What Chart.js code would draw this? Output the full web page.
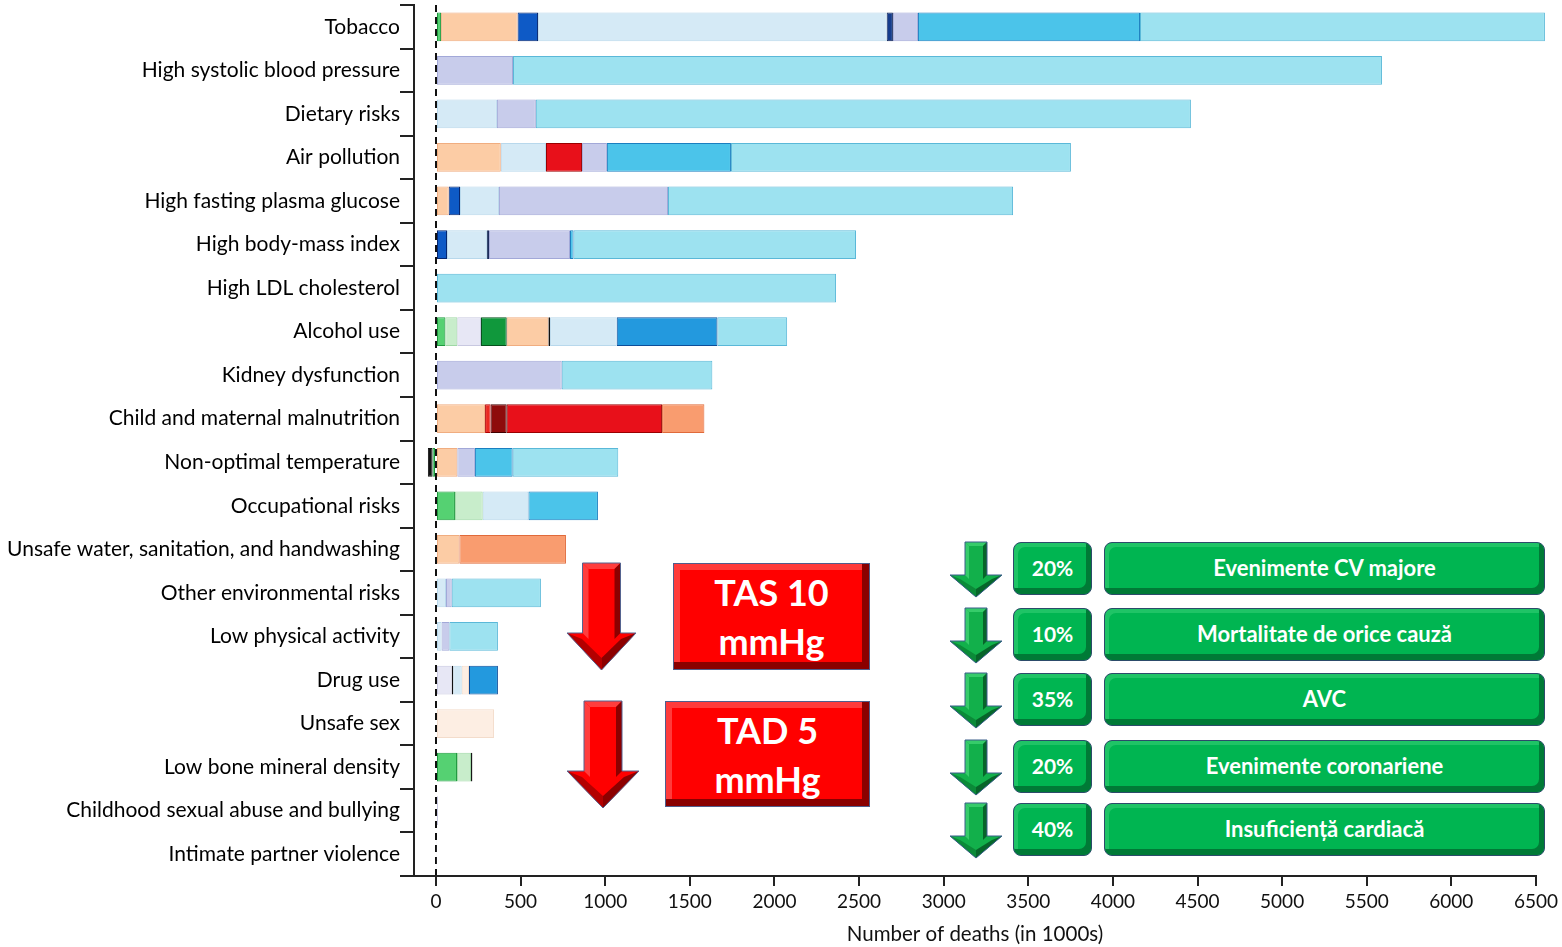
<!DOCTYPE html>
<html lang="ro">
<head>
<meta charset="utf-8">
<title>Decese atribuibile factorilor de risc</title>
<script src="https://cdn.jsdelivr.net/npm/chart.js@4.4.1/dist/chart.umd.min.js"></script>
<style>
  body { margin: 0; background: #fff; }
  #wrap { position: relative; width: 1562px; height: 947px; overflow: hidden; }
  #grafico { position: absolute; left: 0; top: 0; }
  .caja { position: absolute; box-sizing: border-box; color: #fff; font-family: Lato, sans-serif; font-weight: 700; text-align: center; }
  .roja { background: #ff0000; border: 1px solid #4f5d8c; box-shadow: inset -7px -7px 0 #8a0000, inset 6px 6px 0 #ff3b3b; font-size: 36px; line-height: 49px; padding-top: 4px; }
  .verde { background: #00b551; border: 1px solid #2c4b6a; border-radius: 8px; box-shadow: inset -5px -6px 0 #007a36, inset 4px 4px 0 #1fc466; font-size: 22px; display: flex; align-items: center; justify-content: center; padding-bottom: 3px; }
  .verde.pct { font-size: 21px; }
  svg { position: absolute; overflow: visible; }
</style>
</head>
<body>
<div id="wrap">
  <canvas id="grafico" width="1562" height="947"></canvas>
  <div id="notas"></div>
</div>
<script>
/* Datos */
var factores = [
  "Tobacco", "High systolic blood pressure", "Dietary risks", "Air pollution",
  "High fasting plasma glucose", "High body-mass index", "High LDL cholesterol",
  "Alcohol use", "Kidney dysfunction", "Child and maternal malnutrition",
  "Non-optimal temperature", "Occupational risks", "Unsafe water, sanitation, and handwashing",
  "Other environmental risks", "Low physical activity", "Drug use", "Unsafe sex",
  "Low bone mineral density", "Childhood sexual abuse and bullying", "Intimate partner violence"
];
var xTicks = [0, 500, 1000, 1500, 2000, 2500, 3000, 3500, 4000, 4500, 5000, 5500, 6000, 6500];

var transportInjuries     = [30, null, null, null, null, null, null, 55, null, null, -20, 112, null, null, null, null, null, 124, null, null];
var unintentionalInjuries = [null, null, null, null, null, null, null, 71, null, null, null, 164, null, null, null, null, null, 83, null, null];
var substanceUse          = [null, null, null, null, null, null, null, 140, null, null, null, null, null, null, null, 93, null, null, 12, 4];
var selfHarmViolence      = [null, null, null, null, null, null, null, 152, null, null, null, null, null, null, null, null, null, null, null, null];
var respiratoryInfections = [452, null, null, 383, 75, null, null, 246, null, 290, 126, null, 138, null, null, null, null, null, null, null];
var otherNcd              = [null, null, null, null, null, null, null, 10, null, null, -28, null, null, null, null, 9, null, 8, null, null];
var neurological          = [121, null, null, null, 67, 65, null, null, null, null, null, null, null, null, null, null, null, null, null, null];
var neoplasms             = [2060, null, 360, 267, 230, 237, null, 394, null, null, null, 270, null, 59, 33, 50, null, null, null, null];
var hivSti                = [null, null, null, null, null, null, null, null, null, null, null, null, null, null, null, 43, 343, null, null, null];
var ntdMalaria            = [null, null, null, null, null, null, null, null, null, 33, null, null, null, null, null, null, null, null, null, null];
var nutritional           = [null, null, null, null, null, null, null, null, null, 95, null, null, null, null, null, null, null, null, null, null];
var maternalNeonatal      = [null, null, null, 213, null, null, null, null, null, 918, null, null, null, null, null, null, null, null, null, null];
var mentalDisorders       = [37, null, null, null, null, 11, null, null, null, null, null, null, null, null, null, null, null, null, null, null];
var entericInfections     = [null, null, null, null, null, null, null, null, null, 250, null, null, 630, null, null, null, null, null, null, null];
var diabetesKidney        = [148, 455, 230, 147, 999, 479, null, null, 743, null, 104, null, null, 34, 46, null, null, null, null, null];
var chronicRespiratory    = [1312, null, null, 733, null, 21, null, null, null, null, 223, 411, null, null, null, null, null, null, null, null];
var digestive             = [null, null, null, null, null, null, null, 595, null, null, null, null, null, null, null, 171, null, null, null, null];
var cardiovascular        = [2393, 5135, 3871, 2009, 2039, 1669, 2364, 412, 890, null, 624, null, null, 527, 287, null, null, null, null, null];

var procente = ["20%", "10%", "35%", "20%", "40%"];
var efecte = ["Evenimente CV majore", "Mortalitate de orice cauză", "AVC", "Evenimente coronariene", "Insuficiență cardiacă"];

/* Series: nombre, valores, color, borde */
function serie(nombre, valores, color, borde) {
  return {
    label: nombre,
    data: valores,
    backgroundColor: color,
    borderColor: borde,
    borderWidth: 1,
    borderSkipped: false,
    clip: false,
    barPercentage: 0.66,
    categoryPercentage: 1
  };
}

var ctx = document.getElementById("grafico").getContext("2d");

new Chart(ctx, {
  type: "bar",
  data: {
    labels: factores,
    datasets: [
      serie("Transport injuries", transportInjuries, "#55d172", "#1e9a3e"),
      serie("Unintentional injuries", unintentionalInjuries, "#c8edcb", "#9fd8a5"),
      serie("Substance use disorders", substanceUse, "#e7e7f5", "#c8c8e0"),
      serie("Self-harm and interpersonal violence", selfHarmViolence, "#10983c", "#05501c"),
      serie("Respiratory infections and tuberculosis", respiratoryInfections, "#fccca5", "#f0ad80"),
      serie("Other non-communicable diseases", otherNcd, "#111111", "#111111"),
      serie("Neurological disorders", neurological, "#0e5ac6", "#06266e"),
      serie("Neoplasms", neoplasms, "#d5eaf6", "#b8d8ec"),
      serie("HIV/AIDS and sexually transmitted infections", hivSti, "#fdeee3", "#f3dccb"),
      serie("Neglected tropical diseases and malaria", ntdMalaria, "#ea2a22", "#b00000"),
      serie("Nutritional deficiencies", nutritional, "#8e0b0b", "#400000"),
      serie("Maternal and neonatal disorders", maternalNeonatal, "#e8101a", "#9a0000"),
      serie("Mental disorders", mentalDisorders, "#163c8c", "#0b1e50"),
      serie("Enteric infections", entericInfections, "#f99c6f", "#e06a3a"),
      serie("Diabetes and kidney diseases", diabetesKidney, "#c8cceb", "#a2a8d8"),
      serie("Chronic respiratory diseases", chronicRespiratory, "#4bc4ea", "#1a7fc0"),
      serie("Digestive diseases", digestive, "#2399de", "#0d4e9a"),
      serie("Cardiovascular diseases", cardiovascular, "#9de2f0", "#5ab8d8")
    ]
  },
  options: {
    responsive: false,
    animation: false,
    indexAxis: "y",
    layout: { padding: { top: 5, right: 26, left: 0, bottom: 0 } },
    plugins: {
      legend: { display: false },
      tooltip: { enabled: false }
    },
    scales: {
      x: {
        stacked: true,
        min: -130,
        max: 6500,
        afterBuildTicks: function(s) {
          s.ticks = xTicks.map(function(v) { return { value: v }; });
        },
        afterFit: function(s) { s.height = 71; },
        grid: {
          drawOnChartArea: true,
          color: function(c) { return c.tick && c.tick.value === 0 ? "#111" : "transparent"; },
          lineWidth: 2,
          tickColor: "#222",
          tickLength: 10,
          tickWidth: 2
        },
        border: { display: true, color: "#222", width: 2, dash: [7, 5] },
        ticks: {
          color: "#111",
          padding: 4,
          maxRotation: 0,
          autoSkip: false,
          font: { family: "Lato", size: 19 },
          callback: function(v) { return String(v); }
        },
        title: {
          display: true,
          text: "Number of deaths (in 1000s)",
          color: "#111",
          font: { family: "Lato", size: 20.5 },
          padding: { top: 0, bottom: 0 }
        }
      },
      y: {
        stacked: true,
        afterFit: function(s) {
          s.width = 414;
          s.paddingTop = 0;
          s.paddingBottom = 0;
        },
        grid: {
          offset: true,
          drawOnChartArea: false,
          color: "#222",
          lineWidth: 2,
          tickLength: 14
        },
        border: { color: "#222", width: 2 },
        ticks: {
          color: "#000",
          padding: 0,
          autoSkip: false,
          font: { family: "Lato", size: 21 }
        }
      }
    }
  }
});

/* Flechas y cajas */
var notas = document.getElementById("notas");

function flecha(x, y, w, h, sw, hh, col) {
  var cx = w / 2, s1 = cx - sw / 2, s2 = cx + sw / 2, ht = h - hh, b = col.b;
  var pts = function(a) { return a.map(function(p) { return p[0] + "," + p[1]; }).join(" "); };
  var svg = '<svg style="left:' + x + 'px;top:' + y + 'px" width="' + w + '" height="' + h + '">'
    + '<polygon points="' + pts([[s1,0],[s2,0],[s2,ht],[w,ht],[cx,h],[0,ht],[s1,ht]]) + '" fill="' + col.fill + '"/>'
    + '<polygon points="' + pts([[s1,0],[s2,0],[s2-b,b],[s1+b,b]]) + '" fill="' + col.light + '"/>'
    + '<polygon points="' + pts([[s1,0],[s1+b,b],[s1+b,ht+b],[s1,ht]]) + '" fill="' + col.light + '"/>'
    + '<polygon points="' + pts([[s2,0],[s2-b,b],[s2-b,ht+b],[s2,ht]]) + '" fill="' + col.dark + '"/>'
    + '<polygon points="' + pts([[0,ht],[cx,h],[cx,h-2*b],[2.5*b,ht+b]]) + '" fill="' + col.mid + '"/>'
    + '<polygon points="' + pts([[w,ht],[cx,h],[cx,h-2*b],[w-2.5*b,ht+b]]) + '" fill="' + col.dark + '"/>'
    + '<polygon points="' + pts([[s1,0],[s2,0],[s2,ht],[w,ht],[cx,h],[0,ht],[s1,ht]]) + '" fill="none" stroke="' + col.line + '" stroke-width="1"/>'
    + '</svg>';
  notas.insertAdjacentHTML("beforeend", svg);
}

var rojo = { fill: "#ff0000", light: "#ff3d3d", dark: "#8c0000", mid: "#b30000", line: "#55638f", b: 6 };
var verde = { fill: "#12b04b", light: "#36cc6a", dark: "#07652a", mid: "#0b8a38", line: "#3a5f8a", b: 4 };

flecha(567, 563, 69, 107, 38, 37, rojo);
flecha(567, 701, 72, 107, 38, 37, rojo);

notas.insertAdjacentHTML("beforeend",
  '<div class="caja roja" style="left:673px;top:563px;width:197px;height:107px">TAS 10<br>mmHg</div>' +
  '<div class="caja roja" style="left:665px;top:701px;width:205px;height:106px">TAD 5<br>mmHg</div>');

var filas = [542, 608, 673, 740, 803];
filas.forEach(function(top, i) {
  flecha(950, top, 52, 55, 22, 22, verde);
  notas.insertAdjacentHTML("beforeend",
    '<div class="caja verde pct" style="left:1013px;top:' + top + 'px;width:79px;height:53px">' + procente[i] + '</div>' +
    '<div class="caja verde" style="left:1104px;top:' + top + 'px;width:441px;height:53px">' + efecte[i] + '</div>');
});
</script>
</body>
</html>
